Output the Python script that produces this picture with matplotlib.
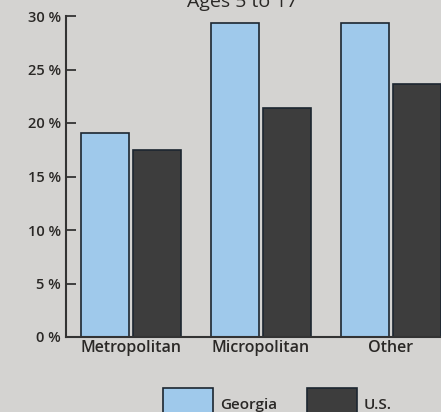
import numpy as np
import matplotlib.pyplot as plt
from matplotlib.patches import Patch

plt.rcParams['font.family'] = ['Open Sans', 'DejaVu Sans']

categories = ['Metropolitan', 'Micropolitan', 'Other']
georgia = [19.1, 29.3, 29.3]
us = [17.5, 21.4, 23.6]
yticks = [0, 5, 10, 15, 20, 25, 30]

bg = '#d4d3d1'
blue = '#9fc9eb'
dark = '#3d3d3d'
edge = '#1c2630'
txt = '#2a2826'

fig = plt.figure(figsize=(4.41, 4.12), dpi=100, facecolor=bg)
ax = fig.add_axes([66 / 441, 75 / 412, 1 - 66 / 441, 321 / 412])
ax.set_facecolor(bg)

x = np.arange(len(categories))
w = 0.37
ax.bar(x - 0.2, georgia, w, color=blue, edgecolor=edge, linewidth=1.2, label='Georgia')
ax.bar(x + 0.2, us, w, color=dark, edgecolor=edge, linewidth=1.2, label='U.S.')

ax.set_xlim(-0.5, 2.385)
ax.set_ylim(0, 30)
ax.set_yticks(yticks)
ax.set_yticklabels([f'{t} %' for t in yticks], fontsize=10.5, color=txt, fontweight='semibold')
ax.set_xticks(x)
ax.set_xticklabels(categories, fontsize=11.5, color=txt, fontweight='semibold')
ax.tick_params(axis='y', direction='in', length=7, width=1.3, color='#333333', pad=3.5)
ax.tick_params(axis='x', length=0, pad=2.5)
for s in ['top', 'right']:
    ax.spines[s].set_visible(False)
for s in ['left', 'bottom']:
    ax.spines[s].set_color('#333333')
    ax.spines[s].set_linewidth(1.5)

fig.text(242 / 441, 1 - 7 / 412, 'Ages 5 to 17', ha='center', va='baseline',
         fontsize=14, color=txt)

handles = [Patch(facecolor=blue, edgecolor=edge, linewidth=1.2),
           Patch(facecolor=dark, edgecolor=edge, linewidth=1.2)]
fig.legend(handles, ['Georgia', 'U.S.'], loc='upper left',
           bbox_to_anchor=(163 / 441, 1 - 388 / 412), ncol=2, frameon=False,
           prop={'size': 11, 'weight': 'semibold'}, labelcolor=txt,
           handlelength=3.27, handleheight=3.05, handletextpad=0.46,
           columnspacing=1.96, borderpad=0, borderaxespad=0)

fig.savefig('out.png', dpi=100, facecolor=bg)
